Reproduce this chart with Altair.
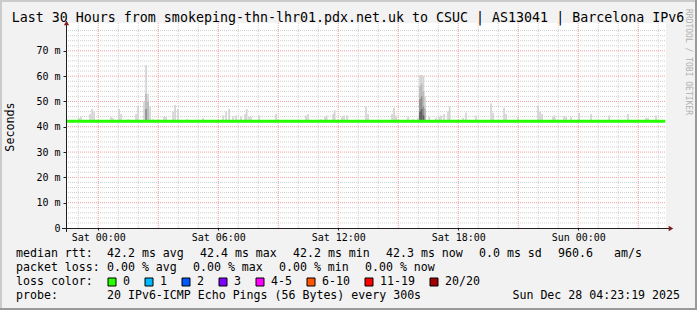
import altair as alt
import pandas as pd

# ---------------- data ----------------
TITLE = "Last 30 Hours from smokeping-thn-lhr01.pdx.net.uk to CSUC | AS13041 | Barcelona IPv6"
X_START, X_END = -1.611, 28.389          # hours relative to Sat 00:00
Y_MAX = 81.0                              # ms
tick_hours = [0, 6, 12, 18, 24]
tick_labels = ["Sat 00:00", "Sat 06:00", "Sat 12:00", "Sat 18:00", "Sun 00:00"]
y_ticks = [0, 10, 20, 30, 40, 50, 60, 70]

median_hours = [-1.611, 28.35]
median_ms = [42.2, 42.2]

# light smoke: max ping per 5-minute step (hours rel. Sat 00:00, ms)
smoke_hours = [-1.00, -0.90, -0.45, -0.35, -0.25, 0.60, 0.70, 1.00, 1.10, 1.45, 1.85, 1.95,
               2.25, 2.35, 2.45, 2.55, 2.70, 3.25, 3.35, 3.70, 3.80, 3.95, 4.40, 5.20,
               6.20, 6.35, 6.50, 6.70, 6.85, 7.10, 7.30, 7.38, 7.50, 7.60, 8.00, 8.85,
               10.35, 10.45, 11.10, 11.30, 11.38, 11.70, 11.78, 12.15, 12.25, 12.40,
               13.35, 13.45, 14.65, 14.75, 14.85, 15.45, 15.70, 15.95,
               16.05, 16.13, 16.22, 16.30, 16.50, 16.85, 17.00, 17.10, 17.25, 17.45, 17.53,
               18.20, 18.35, 18.85, 19.60, 19.70, 20.25, 20.35, 20.95,
               21.95, 22.05, 22.15, 22.70, 22.78, 23.25, 23.35, 23.60, 24.00, 24.60,
               25.50, 26.45, 27.35, 27.45, 27.85]
smoke_max = [43.5, 44.0, 45.0, 47.0, 46.0, 44.0, 43.5, 47.0, 45.0, 43.0, 45.0, 48.0,
             50.0, 64.4, 53.0, 48.0, 43.0, 44.0, 44.0, 46.0, 48.6, 47.0, 43.0, 43.5,
             44.5, 46.0, 47.0, 44.0, 44.5, 44.0, 45.0, 47.0, 44.0, 44.0, 44.5, 45.0,
             44.5, 45.0, 43.0, 44.0, 44.5, 45.0, 46.5, 44.0, 44.5, 44.5,
             48.0, 45.0, 45.0, 47.5, 44.5, 44.0, 43.0, 43.5,
             60.5, 60.5, 60.0, 52.0, 44.0, 43.5, 44.0, 44.5, 45.0, 46.0, 48.0,
             43.5, 45.5, 44.5, 49.3, 45.5, 47.5, 45.0, 44.0,
             48.2, 46.0, 45.0, 44.0, 44.5, 44.3, 44.0, 44.0, 45.5, 45.0,
             44.5, 45.0, 43.5, 43.5, 44.5]

# denser smoke inside the two big spikes
mid_hours = [2.35, 2.45, 16.05, 16.13, 16.22, 16.30]
mid_ms = [53.0, 50.0, 56.0, 57.0, 54.0, 47.0]
dark_hours = [2.35, 16.05, 16.13, 16.22]
dark_ms = [47.0, 51.0, 52.0, 48.0]
core_hours = [16.05, 16.13, 16.22]
core_ms = [46.0, 47.0, 44.5]

legend_rtt = ["42.2 ms avg", "42.4 ms max", "42.2 ms min", "42.3 ms now", "0.0 ms sd", "960.6", "am/s"]
legend_loss = ["0.00 % avg", "0.00 % max", "0.00 % min", "0.00 % now"]
loss_labels = ["0", "1", "2", "3", "4-5", "6-10", "11-19", "20/20"]
loss_colors = ["#26ff00", "#00b8ff", "#0059ff", "#7e00ff", "#ff00ff", "#ff5500", "#ff0000", "#a10000"]
probe_text = "20 IPv6-ICMP Echo Pings (56 Bytes) every 300s"
stamp_text = "Sun Dec 28 04:23:19 2025"

# ---------------- layout ----------------
OX, OY = 66, 23          # plot-area origin in the page
W, H = 600, 205
FONT = "DejaVu Sans Mono"
LEG_SIZE = 11.6
CHAR_W = 7.0
STEP = 1.0 / 12.0

x_scale = alt.Scale(domain=[X_START, X_END], nice=False, zero=False)
y_scale = alt.Scale(domain=[0, Y_MAX], nice=False, zero=False)
label_expr = "[" + ",".join("'%s'" % s for s in tick_labels) + "][indexof([" + \
    ",".join(str(v) for v in tick_hours) + "], datum.value)]"
x_axis = alt.Axis(values=tick_hours, labelExpr=label_expr, title=None, grid=False, domain=False,
                  labelFont=FONT, labelFontSize=10, labelColor="black", tickSize=2,
                  tickColor="#1f1f1f", labelPadding=2, labelFlush=False)
y_axis = alt.Axis(values=y_ticks, labelExpr="datum.value == 0 ? '0' : datum.value + ' m'", title=None,
                  grid=False, domain=False, labelFont=FONT, labelFontSize=10, labelColor="black",
                  tickSize=3, tickColor="#1f1f1f", labelPadding=3)


def X(f):
    return alt.X(f, type="quantitative", scale=x_scale, axis=x_axis)


def Y(f):
    return alt.Y(f, type="quantitative", scale=y_scale, axis=y_axis)


dummy = alt.Data(values=[{"a": 1}])


def txt(s, x, y, size=LEG_SIZE, align="left", color="black", angle=0, baseline="middle"):
    return alt.Chart(dummy).mark_text(align=align, baseline=baseline, font=FONT, fontSize=size,
                                      color=color, angle=angle).encode(
        x=alt.value(x - OX), y=alt.value(y - OY), text=alt.value(s))


def box(x0, y0, x1, y1, fill, stroke=None):
    kw = dict(fill=fill)
    if stroke:
        kw.update(stroke=stroke, strokeWidth=1)
    else:
        kw.update(strokeWidth=0)
    return alt.Chart(dummy).mark_rect(**kw).encode(
        x=alt.value(x0 - OX), x2=alt.value(x1 - OX), y=alt.value(y0 - OY), y2=alt.value(y1 - OY))


layers = []

# 3D border of the canvas
layers += [box(0, 0, 697, 2, "#cbcbcb"), box(0, 0, 2, 310, "#cbcbcb"),
           box(0, 308, 697, 310, "#999999"), box(695, 0, 697, 310, "#999999")]

# grid
minor_y = [v for v in range(2, 82, 2) if v % 10]
major_y = [v for v in range(10, 80, 10)]
minor_x = [h for h in range(-1, 29) if h % 3]
major_x = [h for h in range(0, 29, 3)]


def hgrid(vals, color):
    return alt.Chart(pd.DataFrame({"v": vals})).mark_rule(
        color=color, strokeWidth=1, strokeDash=[1, 1]).encode(
        y=Y("v"), x=alt.value(0), x2=alt.value(W))


def vgrid(vals, color):
    return alt.Chart(pd.DataFrame({"v": vals})).mark_rule(
        color=color, strokeWidth=1, strokeDash=[1, 1]).encode(
        x=X("v"), y=alt.value(0), y2=alt.value(H))


layers += [hgrid(minor_y, "#cfcfcf"), vgrid(minor_x, "#cfcfcf"),
           hgrid(major_y, "#f0a0a0"), vgrid(major_x, "#f0a0a0")]

# smoke
base = median_ms[0]
rows = []
for shade, hs, vs in [("s1", smoke_hours, smoke_max), ("s2", mid_hours, mid_ms),
                      ("s3", dark_hours, dark_ms), ("s4", core_hours, core_ms)]:
    for h, v in zip(hs, vs):
        rows.append({"h": h, "top": v, "base": base, "shade": shade})
smoke_df = pd.DataFrame(rows)
smoke = alt.Chart(smoke_df).transform_calculate(h2="datum.h + %f" % STEP).mark_rect(strokeWidth=0).encode(
    x=X("h"), x2="h2:Q", y=Y("base"), y2="top:Q",
    color=alt.Color("shade:N", scale=alt.Scale(domain=["s1", "s2", "s3", "s4"],
                                               range=["#d2d2d2", "#b8b8b8", "#8e8e8e", "#606060"]),
                    legend=None))
layers.append(smoke)

# median line
med = alt.Chart(pd.DataFrame({"h": median_hours, "ms": median_ms})).mark_line(
    color="#26ff00", strokeWidth=3, strokeCap="butt").encode(x=X("h"), y=Y("ms"))
layers.append(med)

# axes with arrows
layers.append(alt.Chart(dummy).mark_rule(color="#1f1f1f", strokeWidth=1).encode(
    x=alt.value(0.5), y=alt.value(-2), y2=alt.value(H + 4)))
layers.append(alt.Chart(dummy).mark_rule(color="#1f1f1f", strokeWidth=1).encode(
    x=alt.value(-4), x2=alt.value(W + 5), y=alt.value(H + 0.5)))
layers.append(alt.Chart(dummy).mark_point(shape="triangle-up", filled=True, size=28, color="#7f1f1f",
                                          opacity=1).encode(x=alt.value(0.5), y=alt.value(0)))
layers.append(alt.Chart(dummy).mark_point(shape="triangle-right", filled=True, size=28, color="#7f1f1f",
                                          opacity=1).encode(x=alt.value(W + 5), y=alt.value(H + 0.5)))

# texts
layers.append(txt(TITLE, 348, 18, size=13.3, align="center"))
layers.append(txt("Seconds", 10, 127, size=11.7, align="center", angle=270))
layers.append(txt("RRDTOOL / TOBI OETIKER", 688, 62, size=8, align="center", angle=90, color="#b0b0b0"))

L1, L2, L3, L4 = 254, 268, 282, 296
layers.append(txt("median rtt:", 16, L1))
for s, x in zip(legend_rtt, [107, 200, 293, 386, 479, 558, 614]):
    layers.append(txt(s, x, L1))
layers.append(txt("packet loss:", 16, L2))
for s, x in zip(legend_loss, [107, 193, 279, 365]):
    layers.append(txt(s, x, L2))
layers.append(txt("loss color:", 16, L3))
bx = 108
for s, c in zip(loss_labels, loss_colors):
    layers.append(box(bx, 278, bx + 8, 286, c, stroke="black"))
    layers.append(txt(s, bx + 15, L3))
    bx = bx + 15 + CHAR_W * len(s) + 15
layers.append(txt("probe:", 16, L4))
layers.append(txt(probe_text, 107, L4))
layers.append(txt(stamp_text, 680, L4, align="right"))

chart = alt.layer(*layers).properties(
    width=W, height=H,
    padding={"left": OX, "top": OY, "right": 697 - OX - W, "bottom": 310 - OY - H},
    autosize=alt.AutoSizeParams(type="none"),
    background="#f2f2f2",
).configure_view(fill="white", strokeWidth=0)

chart.save("out.html", embed_options={"renderer": "svg", "actions": False})
